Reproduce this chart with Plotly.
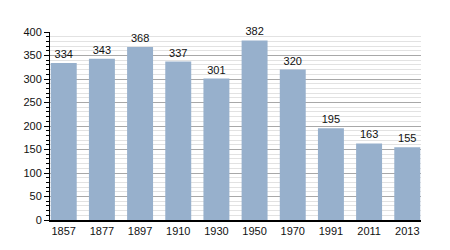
import plotly.graph_objects as go

years = ["1857", "1877", "1897", "1910", "1930", "1950", "1970", "1991", "2011", "2013"]
population = [334, 343, 368, 337, 301, 382, 320, 195, 163, 155]
y_ticks = [0, 50, 100, 150, 200, 250, 300, 350, 400]

fig = go.Figure(go.Bar(
    x=years, y=population,
    marker=dict(color="#97b0cc", line=dict(width=0)),
    width=0.68,
    text=[str(v) for v in population],
    textposition="outside",
    textfont=dict(family="Liberation Sans, Arial", size=11, color="#111"),
    cliponaxis=False,
))

fig.update_layout(
    width=450, height=250,
    margin=dict(l=50, r=29, t=32, b=30),
    paper_bgcolor="white", plot_bgcolor="white",
    font=dict(family="Liberation Sans, Arial", size=11, color="#111"),
    showlegend=False,
    xaxis=dict(
        type="category", range=[-0.36, 9.36],
        showline=True, linecolor="black", linewidth=1.5,
        ticks="", showgrid=False, tickfont=dict(size=11),
    ),
    yaxis=dict(
        range=[0, 400], tickvals=y_ticks,
        showline=True, linecolor="black", linewidth=1,
        ticks="outside", ticklen=5, tickcolor="black",
        showgrid=True, gridcolor="#a8a8a8", gridwidth=1,
        zeroline=False,
        minor=dict(dtick=10, showgrid=True, gridcolor="#e2e2e2", gridwidth=1,
                   ticks="outside", ticklen=3, tickcolor="black"),
        tickfont=dict(size=11),
    ),
)

fig.write_html("out.html")
